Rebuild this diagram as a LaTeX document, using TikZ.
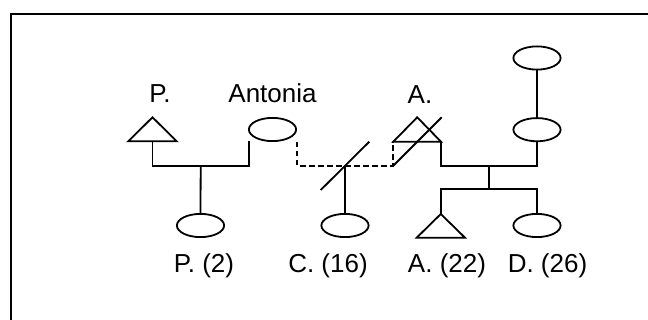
\documentclass[tikz,border=0pt]{standalone}
\usepackage{fontspec}
\setmainfont{Liberation Sans}
\usetikzlibrary{shapes.geometric,calc}
\begin{document}
\begin{tikzpicture}[x=1pt,y=-1pt,line width=1.8pt,line join=miter,
  fem/.style={ellipse,draw,minimum width=47.2pt,minimum height=23.2pt,inner sep=0pt},
  lbl/.style={anchor=base,inner sep=0pt,font=\fontsize{26}{30}\selectfont},
  tri/.style={draw},
  rel/.style={draw},
  divrel/.style={draw,dash pattern=on 5.5pt off 3.5pt}]
\useasboundingbox (0,0) rectangle (648,320);
\clip (0,0) rectangle (648,320);
\draw[line width=2.3pt] (11.2,14.3) rectangle (700,400);

% females
\node[fem] (ant) at (272.5,129.5) {};
\node[fem] (p2)  at (200.5,225.5) {};
\node[fem] (c16) at (345,225.5) {};
\node[fem] (d26) at (537,225.5) {};
\node[fem] (wife) at (537,129.7) {};
\node[fem] (wmom) at (537,58) {};

% males (triangles): apex, base corners
\coordinate (pApex) at (152.5,117.3);
\coordinate (pL) at (128.3,141.3);
\coordinate (pR) at (176.7,141.3);
\coordinate (pB) at (152.5,141.3);
\path[tri] (pApex) -- (pR) -- (pL) -- cycle;

\coordinate (aApex) at (417.2,117.3);
\coordinate (aL) at (393.3,141.7);
\coordinate (aR) at (441,141.7);
\path[tri] (aApex) -- (aR) -- (aL) -- cycle;

\coordinate (a22Apex) at (440.8,214);
\coordinate (a22L) at (416.7,237.7);
\coordinate (a22R) at (465,237.7);
\path[tri] (a22Apex) -- (a22R) -- (a22L) -- cycle;

% P. + Antonia
\coordinate (pbar) at (200.7,166);
\coordinate (antfoot) at (249,141.5);
\path[rel] (pB) |- (pbar) -| (antfoot);
\path[rel] (pbar) -- (p2.north);

% Antonia + A. (divorced)
\coordinate (antR) at (296.7,142);
\coordinate (dbar) at (345,165.7);
\path[divrel] (antR) |- (dbar) -| (aL);
\coordinate (s1) at (320.7,190);
\coordinate (s2) at (369.3,141.7);
\draw (s1) -- (s2);
\path[rel] (dbar) -- (c16.north);

% A. deceased slash
\coordinate (d1) at (393.3,165.7);
\coordinate (d2) at (441.7,117.3);
\draw (d1) -- (d2);

% A. + wife
\coordinate (mbar) at (489,165.7);
\path[rel] (aR) |- (mbar) -| (wife.south);
\path[rel] (wmom.south) -- (wife.north);
\coordinate (sib) at (489,189.3);
\path[rel] (mbar) -- (sib);
\path[rel] (a22Apex) |- (sib) -| (d26.north);

% labels
\node[lbl] (lp) at (160,103) {P.};
\node[lbl] (lant) at (272.5,103) {Antonia};
\node[lbl] (la) at (420,104) {A.};
\node[lbl] (lp2) at (204,273) {P. (2)};
\node[lbl] (lc16) at (328,273) {C. (16)};
\node[lbl] (la22) at (447,273) {A. (22)};
\node[lbl] (ld26) at (547.5,273) {D. (26)};
\end{tikzpicture}
\end{document}
